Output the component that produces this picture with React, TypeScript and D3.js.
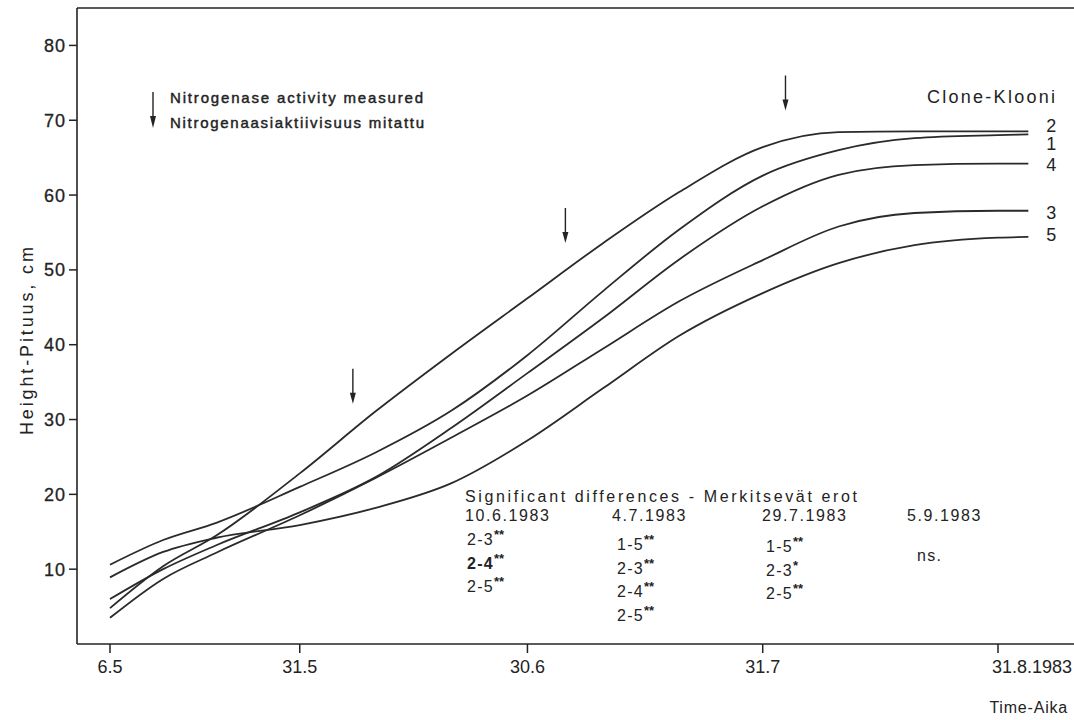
import * as d3 from 'd3';

const parseDay = d3.timeParse('%Y-%m-%d');

// Sampled dates along the growth curves (1983)
const sampleDates = [
  '1983-05-06', '1983-05-13', '1983-05-20', '1983-05-31', '1983-06-10', '1983-06-20', '1983-06-30',
  '1983-07-10', '1983-07-20', '1983-07-31', '1983-08-10', '1983-08-20', '1983-08-31', '1983-09-04',
];

// Height (cm) per clone
const clone2 = [4.8, 10.4, 14.5, 22.8, 31.1, 38.8, 46.2, 53.6, 60.4, 66.4, 68.4, 68.5, 68.5, 68.5];
const clone1 = [10.6, 13.9, 16.2, 21.0, 25.6, 31.2, 38.6, 47.2, 55.4, 62.6, 66.0, 67.6, 68.0, 68.1];
const clone4 = [6.0, 10.0, 13.2, 17.6, 22.3, 28.9, 36.2, 43.6, 51.4, 58.5, 62.7, 64.0, 64.2, 64.2];
const clone3 = [3.5, 8.7, 12.2, 17.2, 22.2, 27.6, 33.2, 39.5, 45.8, 51.3, 55.8, 57.6, 57.9, 57.9];
const clone5 = [8.9, 12.3, 14.2, 15.9, 18.2, 21.5, 27.2, 34.2, 41.2, 46.9, 50.9, 53.3, 54.3, 54.4];

const cloneNames = ['2', '1', '4', '3', '5'];
const cloneSeries = [clone2, clone1, clone4, clone3, clone5];
const labelNudge = [-6, 9, 1, 2, -2];

// Nitrogenase activity measurement dates, arrow tip heights (cm)
const arrowDates = ['1983-06-07', '1983-07-05', '1983-08-03'];
const arrowTips = [32.1, 53.6, 71.3];

// Axes
const xTickDates = ['1983-05-06', '1983-05-31', '1983-06-30', '1983-07-31', '1983-08-31'];
const xTickLabels = ['6.5', '31.5', '30.6', '31.7', '31.8.1983'];
const yTicks = [10, 20, 30, 40, 50, 60, 70, 80];

// Significant differences table
const sigDates = ['10.6.1983', '4.7.1983', '29.7.1983', '5.9.1983'];
const sigPairs = [['2-3', '2-4', '2-5'], ['1-5', '2-3', '2-4', '2-5'], ['1-5', '2-3', '2-5'], ['ns.']];
const sigStars = [['**', '**', '**'], ['**', '**', '**', '**'], ['**', '*', '**'], ['']];

const W = 1074;
const H = 720;
const AXIS_X = 77;
const FONT = '"Liberation Sans", Arial, Helvetica, sans-serif';
const INK = '#232323';

const COL_X = [465, 612, 762, 907];
const ITEM_X = [467, 617, 766, 917];
const ITEM_Y0 = [545, 550, 552, 561];

export default function App() {
  const x = d3.scaleTime()
    .domain([parseDay('1983-05-06')!, parseDay('1983-08-31')!])
    .range([110, 998]);
  const y = d3.scaleLinear().domain([0, 85]).range([644, 8]);

  const dates = sampleDates.map((d) => parseDay(d)!);
  const line = d3.line<number>()
    .x((_, i) => x(dates[i]))
    .y((d) => y(d))
    .curve(d3.curveMonotoneX);

  const x0 = y(0);
  const lastX = x(dates[dates.length - 1]);

  return (
    <svg
      width={W}
      height={H}
      style={{ position: 'absolute', left: 0, top: 0, background: '#fff' }}
      fontFamily={FONT}
    >
      {/* frame: top border, left axis, bottom axis */}
      <g stroke={INK} strokeWidth={1.6} fill="none">
        <line x1={AXIS_X} x2={W} y1={y(85)} y2={y(85)} />
        <line x1={AXIS_X} x2={AXIS_X} y1={y(85)} y2={x0} />
        <line x1={AXIS_X} x2={W} y1={x0} y2={x0} />
      </g>

      {/* y ticks */}
      {yTicks.map((t) => (
        <g key={t}>
          <line x1={AXIS_X - 8} x2={AXIS_X} y1={y(t)} y2={y(t)} stroke={INK} strokeWidth={1.5} />
          <text
            x={AXIS_X - 11}
            y={y(t)}
            dy="0.36em"
            textAnchor="end"
            fontSize={18}
            letterSpacing={1}
            fill={INK}
            stroke={INK}
            strokeWidth={0.3}
          >
            {t}
          </text>
        </g>
      ))}
      <text
        transform={`translate(33,341) rotate(-90)`}
        textAnchor="middle"
        fontSize={18}
        textLength={188}
        lengthAdjust="spacing"
        fill={INK}
      >
        Height-Pituus, cm
      </text>

      {/* x ticks */}
      {xTickDates.map((d, i) => {
        const px = x(parseDay(d)!);
        const last = i === xTickDates.length - 1;
        return (
          <g key={d}>
            <line x1={px} x2={px} y1={x0} y2={x0 + 9} stroke={INK} strokeWidth={1.5} />
            <text
              x={last ? px - 6 : px}
              y={x0 + 29}
              textAnchor={last ? 'start' : 'middle'}
              fontSize={18}
              fill={INK}
            >
              {xTickLabels[i]}
            </text>
          </g>
        );
      })}
      <text x={1068} y={713} textAnchor="end" fontSize={16} letterSpacing={0.8} fill={INK}>
        Time-Aika
      </text>

      {/* growth curves */}
      {cloneSeries.map((s, i) => (
        <path key={cloneNames[i]} d={line(s) ?? ''} fill="none" stroke="#2a2a2a" strokeWidth={1.8} />
      ))}
      {cloneSeries.map((s, i) => (
        <text
          key={`lab-${cloneNames[i]}`}
          x={lastX + 23}
          y={y(s[s.length - 1]) + labelNudge[i]}
          dy="0.36em"
          textAnchor="middle"
          fontSize={18}
          fill={INK}
        >
          {cloneNames[i]}
        </text>
      ))}
      <text x={927} y={103} fontSize={18} textLength={128} lengthAdjust="spacing" fill={INK}>
        Clone-Klooni
      </text>

      {/* measurement arrows */}
      {arrowDates.map((d, i) => {
        const ax = x(parseDay(d)!);
        const tip = y(arrowTips[i]);
        return (
          <g key={d}>
            <line x1={ax} x2={ax} y1={tip - 35} y2={tip - 6} stroke={INK} strokeWidth={1.4} />
            <path d={`M${ax - 3},${tip - 11} L${ax + 3},${tip - 11} L${ax},${tip} Z`} fill={INK} />
          </g>
        );
      })}

      {/* legend */}
      <line x1={153} x2={153} y1={92} y2={122} stroke={INK} strokeWidth={1.4} />
      <path d="M150,116 L156,116 L153,128 Z" fill={INK} />
      <text x={170} y={103} fontSize={15} stroke={INK} strokeWidth={0.45} textLength={253} lengthAdjust="spacing" fill={INK}>
        Nitrogenase activity measured
      </text>
      <text x={170} y={128} fontSize={15} stroke={INK} strokeWidth={0.45} textLength={254} lengthAdjust="spacing" fill={INK}>
        Nitrogenaasiaktiivisuus mitattu
      </text>

      {/* significant differences */}
      <text x={465} y={502} fontSize={16} textLength={392} lengthAdjust="spacing" fill={INK}>
        Significant differences - Merkitsevät erot
      </text>
      {sigDates.map((d, c) => (
        <g key={d}>
          <text x={COL_X[c]} y={521} fontSize={16} letterSpacing={1.6} fill={INK}>
            {d}
          </text>
          {sigPairs[c].map((p, r) => (
            <text
              key={`${d}-${p}`}
              x={ITEM_X[c]}
              y={ITEM_Y0[c] + r * 23.5}
              fontSize={16}
              letterSpacing={1.3}
              fontWeight={c === 0 && r === 1 ? 'bold' : 'normal'}
              fill={INK}
            >
              {p}
              {sigStars[c][r] && (
                <tspan dy={-6} fontSize={13} fontWeight="bold" letterSpacing={0}>
                  {sigStars[c][r]}
                </tspan>
              )}
            </text>
          ))}
        </g>
      ))}
    </svg>
  );
}
